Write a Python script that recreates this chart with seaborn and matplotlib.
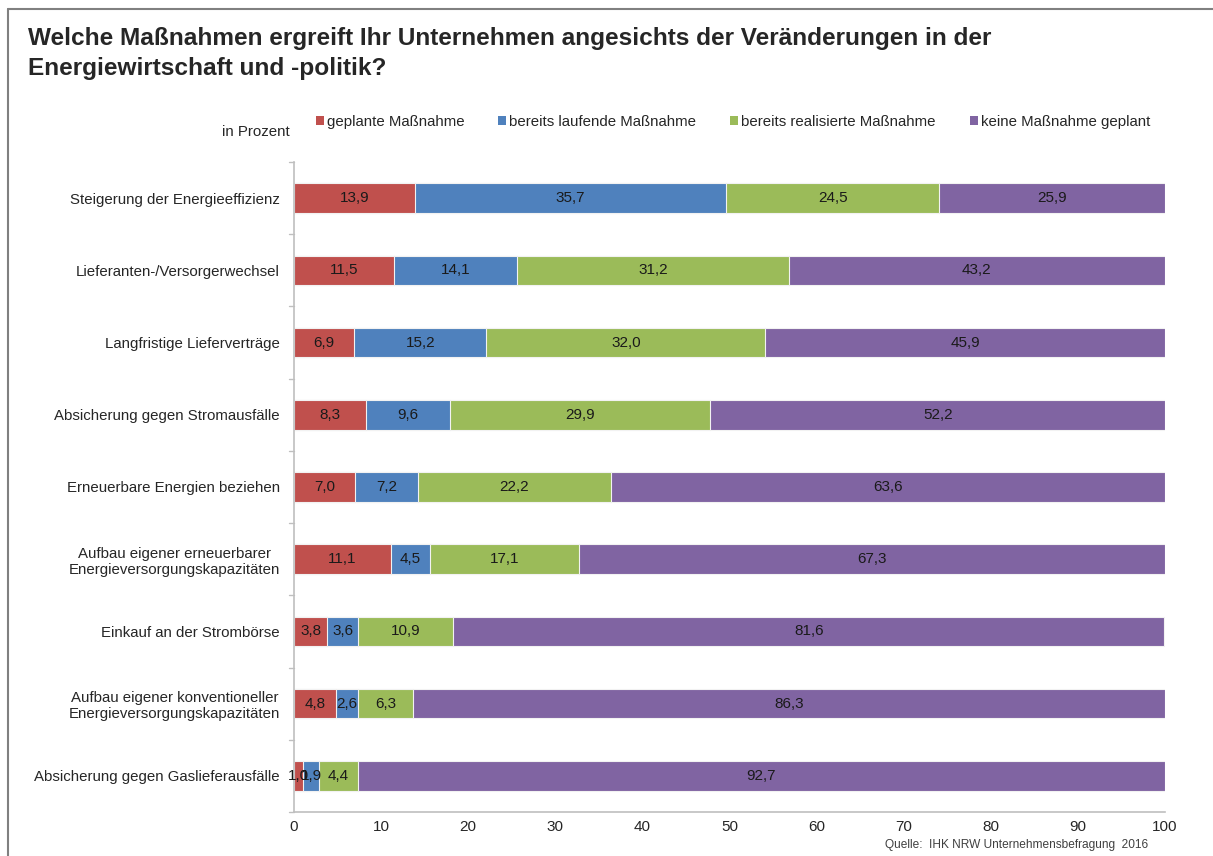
import numpy as np
import pandas as pd
import matplotlib
matplotlib.use("Agg")
import matplotlib.pyplot as plt
from matplotlib.lines import Line2D
from matplotlib.patches import Patch
import seaborn as sns

# Daten
kategorien = [
    "Steigerung der Energieeffizienz",
    "Lieferanten-/Versorgerwechsel",
    "Langfristige Lieferverträge",
    "Absicherung gegen Stromausfälle",
    "Erneuerbare Energien beziehen",
    "Aufbau eigener erneuerbarer\nEnergieversorgungskapazitäten",
    "Einkauf an der Strombörse",
    "Aufbau eigener konventioneller\nEnergieversorgungskapazitäten",
    "Absicherung gegen Gaslieferausfälle",
]
geplant = [13.9, 11.5, 6.9, 8.3, 7.0, 11.1, 3.8, 4.8, 1.0]
laufend = [35.7, 14.1, 15.2, 9.6, 7.2, 4.5, 3.6, 2.6, 1.9]
realisiert = [24.5, 31.2, 32.0, 29.9, 22.2, 17.1, 10.9, 6.3, 4.4]
keine = [25.9, 43.2, 45.9, 52.2, 63.6, 67.3, 81.6, 86.3, 92.7]

serien = ["geplante Maßnahme", "bereits laufende Maßnahme",
          "bereits realisierte Maßnahme", "keine Maßnahme geplant"]
farben = ["#C0504D", "#4F81BD", "#9BBB59", "#8064A2"]

df = pd.DataFrame({"kategorie": kategorien, serien[0]: geplant, serien[1]: laufend,
                   serien[2]: realisiert, serien[3]: keine})
cum = df[serien].cumsum(axis=1)

sns.set_style("white")
plt.rcParams["font.family"] = ["Liberation Sans", "DejaVu Sans"]

fig = plt.figure(figsize=(12.13, 8.56), dpi=100)
ax = fig.add_axes([294 / 1213, 44 / 856, (1165 - 294) / 1213, (812 - 162) / 856])

# gestapelte Balken: von der größten Summe rückwärts überlagern
for s, c in reversed(list(zip(serien, farben))):
    sns.barplot(x=cum[s], y=df["kategorie"], color=c, saturation=1, orient="h", width=0.41,
                edgecolor="#F2F2F2", linewidth=0.8, ax=ax)

# Beschriftungen in den Segmenten
for i, row in df.iterrows():
    links = 0
    for s in serien:
        v = row[s]
        ax.text(links + v / 2, i, f"{v:.1f}".replace(".", ","), ha="center", va="center",
                fontsize=11, color="#1a1a1a")
        links += v

ax.set_xlim(0, 100)
ax.set_ylim(len(kategorien) - 0.5, -0.5)
ax.set_xticks(range(0, 101, 10))
ax.set_xlabel("")
ax.set_ylabel("")
ax.tick_params(axis="x", labelsize=11, length=4, direction="in", color="#BFBFBF", pad=6)
ax.tick_params(axis="y", labelsize=10.8, length=0, pad=10)
for lbl in ax.get_yticklabels():
    lbl.set_multialignment("center")
# Trennstriche zwischen den Kategorien
for b in np.arange(-0.5, len(kategorien) + 0.5, 1):
    ax.plot([-0.006, 0], [b, b], transform=ax.get_yaxis_transform(), color="#BFBFBF",
            lw=1, clip_on=False)
for sp in ["top", "right"]:
    ax.spines[sp].set_visible(False)
for sp in ["left", "bottom"]:
    ax.spines[sp].set_color("#BFBFBF")
    ax.spines[sp].set_linewidth(1.2)

# Legende
handles = [Patch(facecolor=c, edgecolor="none") for c in farben]
fig.legend(handles, serien, loc="center left", bbox_to_anchor=(302 / 1213, 1 - 122 / 856),
           ncol=4, frameon=False, fontsize=10.8, handlelength=0.55, handleheight=0.55,
           handletextpad=0.2, columnspacing=2.25)
fig.text(290 / 1213, 1 - 132 / 856, "in Prozent", ha="right", va="center", fontsize=10.8)

# Titel
fig.text(28 / 1213, 1 - 38 / 856, "Welche Maßnahmen ergreift Ihr Unternehmen angesichts der Veränderungen in der",
         ha="left", va="center", fontsize=17.6, fontweight="bold")
fig.text(28 / 1213, 1 - 69 / 856, "Energiewirtschaft und -politik?",
         ha="left", va="center", fontsize=17.6, fontweight="bold")

# Quelle
fig.text(1148 / 1213, 1 - 845 / 856, "Quelle:  IHK NRW Unternehmensbefragung  2016",
         ha="right", va="center", fontsize=8.6, color="#404040")

# Rahmen oben und links
fig.add_artist(Line2D([8 / 1213, 1.0], [1 - 9 / 856, 1 - 9 / 856], color="#808080", lw=1.5))
fig.add_artist(Line2D([8 / 1213, 8 / 1213], [0.0, 1 - 9 / 856], color="#808080", lw=1.5))

fig.savefig("out.png", dpi=100)
